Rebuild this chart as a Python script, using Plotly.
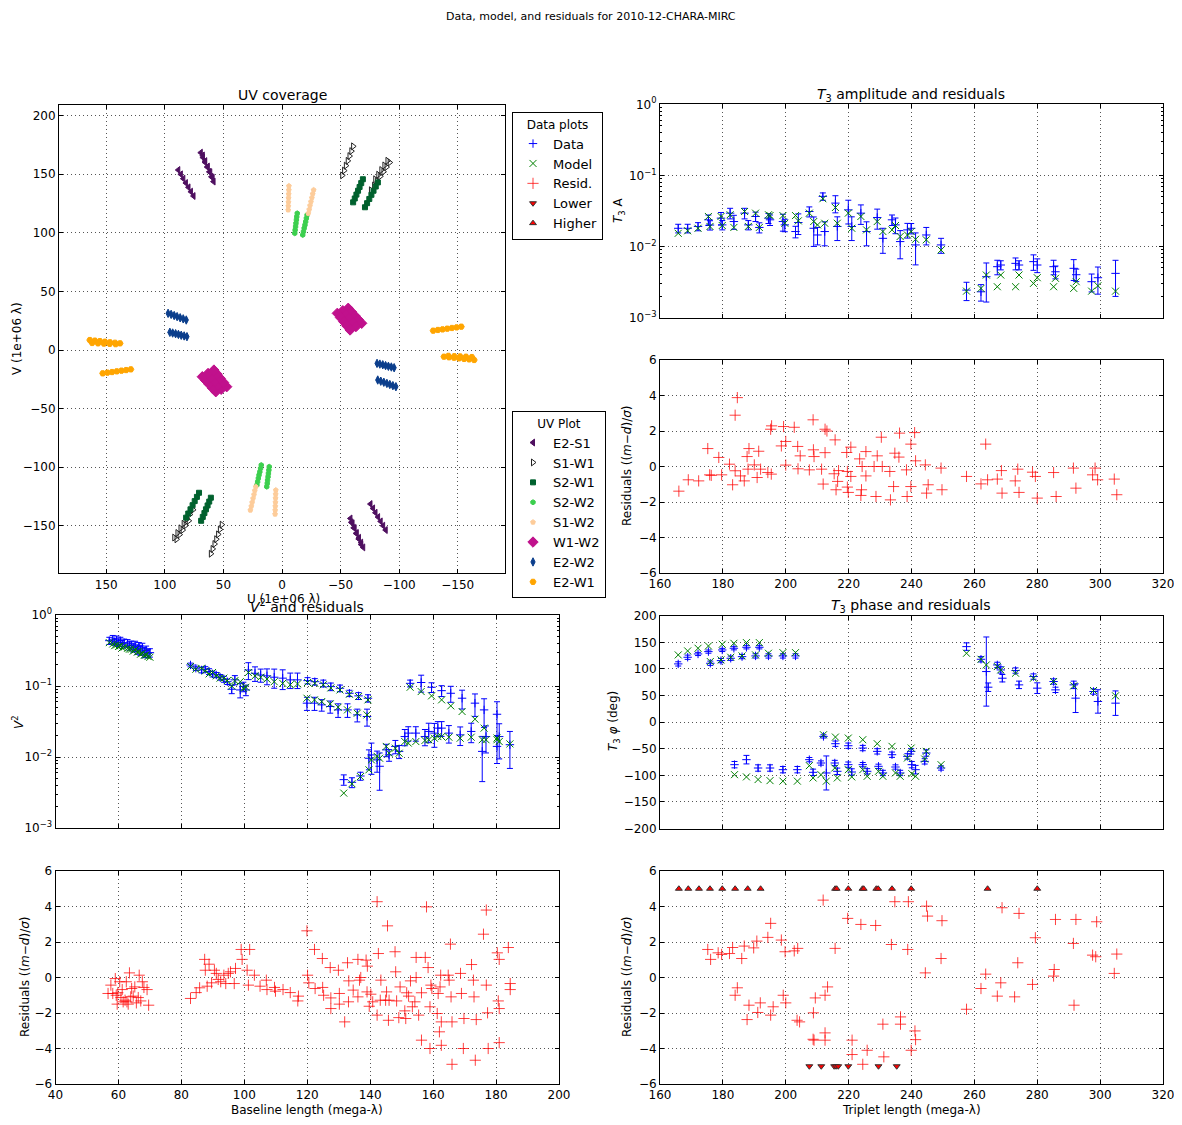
import plotly.graph_objects as go

W, H = 1182, 1125
OFF = 8  # browser body margin
FONT = "DejaVu Sans"

# ---------------- UV coverage data (u, v in 1e6 lambda) ----------------
uv_E2S1_u = [88.5, 86.3, 84.2, 82.0, 79.8, 77.7, 75.5, 69.3, 67.5, 65.7, 63.8, 62.0, 60.2, 58.4, 67.6, 65.5, 63.3, 61.2, 59.2,
             -58.4, -60.2, -62.0, -63.8, -65.7, -67.5, -69.3, -59.2, -61.2, -63.3, -65.5, -67.6,
             -75.5, -77.7, -79.8, -82.0, -84.2, -86.3, -88.5]
uv_E2S1_v = [153.6, 149.9, 146.2, 142.5, 138.8, 135.1, 131.4, 168.4, 164.3, 160.2, 156.1, 152.0, 147.8, 143.7, 166.0, 161.2, 156.5, 151.7, 147.0,
             -143.7, -147.8, -152.0, -156.1, -160.2, -164.3, -168.4, -147.0, -151.7, -156.5, -161.2, -166.0,
             -131.4, -135.1, -138.8, -142.5, -146.2, -149.9, -153.6]
uv_S1W1_u = [-60.7, -59.2, -57.6, -56.1, -54.5, -53.0, -51.4, -91.9, -89.2, -86.6, -83.9, -81.2, -78.6, -75.9, -90.0, -87.4, -84.8, -82.2, -79.6,
             60.7, 59.2, 57.6, 56.1, 54.5, 53.0, 51.4, 91.9, 89.2, 86.6, 83.9, 81.2, 78.6, 75.9, 90.0, 87.4, 84.8, 82.2, 79.6]
uv_S1W1_v = [173.8, 169.7, 165.5, 161.4, 157.3, 153.1, 149.0, 160.0, 156.1, 152.1, 148.2, 144.2, 140.3, 136.3, 161.5, 157.5, 153.6, 149.6, 145.7,
             -173.8, -169.7, -165.5, -161.4, -157.3, -153.1, -149.0, -160.0, -156.1, -152.1, -148.2, -144.2, -140.3, -136.3, -161.5, -157.5, -153.6, -149.6, -145.7]
uv_S2W1_u = [-69.0, -67.6, -66.2, -64.9, -63.5, -62.1, -60.7, -81.8, -80.0, -78.1, -76.3, -74.5, -72.6, -70.8,
             69.0, 67.6, 66.2, 64.9, 63.5, 62.1, 60.7, 81.8, 80.0, 78.1, 76.3, 74.5, 72.6, 70.8]
uv_S2W1_v = [145.7, 142.4, 139.1, 135.9, 132.6, 129.3, 126.0, 143.0, 139.5, 135.9, 132.4, 128.9, 125.3, 121.8,
             -145.7, -142.4, -139.1, -135.9, -132.6, -129.3, -126.0, -143.0, -139.5, -135.9, -132.4, -128.9, -125.3, -121.8]
uv_S2W2_u = [-13.0, -12.6, -12.3, -11.9, -11.6, -11.2, -10.9, -21.4, -20.8, -20.2, -19.6, -18.9, -18.3, -17.7,
             13.0, 12.6, 12.3, 11.9, 11.6, 11.2, 10.9, 21.4, 20.8, 20.2, 19.6, 18.9, 18.3, 17.7]
uv_S2W2_v = [116.6, 113.8, 111.0, 108.1, 105.3, 102.4, 99.6, 115.2, 112.4, 109.5, 106.7, 103.9, 101.0, 98.2,
             -116.6, -113.8, -111.0, -108.1, -105.3, -102.4, -99.6, -115.2, -112.4, -109.5, -106.7, -103.9, -101.0, -98.2]
uv_S1W2_u = [-5.9, -5.8, -5.7, -5.6, -5.5, -5.4, -5.3, -27.0, -26.2, -25.5, -24.7, -23.9, -23.2, -22.4,
             5.9, 5.8, 5.7, 5.6, 5.5, 5.4, 5.3, 27.0, 26.2, 25.5, 24.7, 23.9, 23.2, 22.4]
uv_S1W2_v = [140.0, 136.6, 133.2, 129.8, 126.3, 122.9, 119.5, 136.6, 133.3, 130.0, 126.6, 123.3, 119.9, 116.6,
             -140.0, -136.6, -133.2, -129.8, -126.3, -122.9, -119.5, -136.6, -133.3, -130.0, -126.6, -123.3, -119.9, -116.6]
uv_W1W2_u = [-56.5, -59.4, -62.2, -65.1, -68.0, -51.9, -54.7, -57.5, -60.3, -63.1, -47.2, -49.9, -52.7, -55.4, -58.1,
             56.5, 59.4, 62.2, 65.1, 68.0, 51.9, 54.7, 57.5, 60.3, 63.1, 47.2, 49.9, 52.7, 55.4, 58.1]
uv_W1W2_v = [35.6, 32.4, 29.2, 26.0, 22.8, 33.5, 30.1, 26.7, 23.3, 20.0, 31.3, 27.7, 24.2, 20.6, 17.1,
             -35.6, -32.4, -29.2, -26.0, -22.8, -33.5, -30.1, -26.7, -23.3, -20.0, -31.3, -27.7, -24.2, -20.6, -17.1]
uv_E2W2_u = [97.2, 94.6, 92.0, 89.5, 86.9, 84.3, 81.7, 95.7, 93.3, 90.8, 88.4, 86.0, 83.5, 81.1,
             -97.2, -94.6, -92.0, -89.5, -86.9, -84.3, -81.7, -95.7, -93.3, -90.8, -88.4, -86.0, -83.5, -81.1]
uv_E2W2_v = [31.3, 30.4, 29.4, 28.5, 27.5, 26.6, 25.6, 15.1, 14.5, 13.9, 13.3, 12.6, 12.0, 11.4,
             -31.3, -30.4, -29.4, -28.5, -27.5, -26.6, -25.6, -15.1, -14.5, -13.9, -13.3, -12.6, -12.0, -11.4]
uv_E2W1_u = [164.0, 159.7, 155.4, 151.1, 146.8, 142.5, 138.2, 162.0, 157.0, 152.0, 147.0, 142.0, 153.0, 149.0, 145.0, 141.0, 137.0, 133.0, 129.0,
             -164.0, -159.7, -155.4, -151.1, -146.8, -142.5, -138.2, -162.0, -157.0, -152.0, -147.0, -142.0, -153.0, -149.0, -145.0, -141.0, -137.0, -133.0, -129.0]
uv_E2W1_v = [8.5, 8.0, 7.6, 7.1, 6.6, 6.2, 5.7, 6.0, 5.7, 5.5, 5.3, 5.0, -19.9, -19.3, -18.8, -18.2, -17.6, -17.1, -16.5,
             -8.5, -8.0, -7.6, -7.1, -6.6, -6.2, -5.7, -6.0, -5.7, -5.5, -5.3, -5.0, 19.9, 19.3, 18.8, 18.2, 17.6, 17.1, 16.5]

# ---------------- T3 amplitude ----------------
t3amp_x = [165.8, 168.8, 172.1, 175.4, 175.9, 179.4, 179.8, 182.3, 183.5, 186.9, 188.1, 190.4, 191.6, 194.5, 195.0, 199.1, 199.7, 203.1, 204.0, 207.5,
           208.9, 210.1, 211.8, 212.4, 215.8, 216.4, 219.9, 221.0, 223.9, 225.7, 229.1, 230.9, 233.8, 234.9, 236.4, 238.7, 239.9, 241.3, 244.7, 249.4,
           257.5, 262.1, 263.8, 267.3, 268.4, 273.1, 274.2, 278.8, 280.0, 285.2, 285.8, 291.6, 292.4, 297.3, 299.3, 304.9]
t3amp_data = [0.0180, 0.0180, 0.0191, 0.0237, 0.0200, 0.0250, 0.0201, 0.0294, 0.0224, 0.0294, 0.0201, 0.0264, 0.0185, 0.0250, 0.0237, 0.0224, 0.0201, 0.0162, 0.0217, 0.0310,
              0.0180, 0.0145, 0.0506, 0.0162, 0.0407, 0.0191, 0.0327, 0.0191, 0.0294, 0.0162, 0.0255, 0.0130, 0.0237, 0.0201, 0.0117, 0.0171, 0.0180, 0.0105, 0.0145, 0.0105,
              0.00243, 0.00230, 0.00375, 0.00519, 0.00548, 0.00578, 0.00548, 0.00611, 0.00548, 0.00519, 0.00440, 0.00492, 0.00400, 0.00319, 0.00363, 0.00418]
t3amp_err = [0.0025, 0.0025, 0.0025, 0.004, 0.003, 0.005, 0.003, 0.005, 0.005, 0.005, 0.003, 0.004, 0.003, 0.004, 0.004, 0.006, 0.004, 0.003, 0.007, 0.005,
             0.008, 0.004, 0.006, 0.006, 0.011, 0.007, 0.012, 0.007, 0.009, 0.006, 0.008, 0.005, 0.004, 0.005, 0.005, 0.004, 0.003, 0.005, 0.004, 0.0025,
             0.0007, 0.0006, 0.0021, 0.0012, 0.0008, 0.0011, 0.0008, 0.0015, 0.0012, 0.0012, 0.0009, 0.0016, 0.0008, 0.0009, 0.0015, 0.0022]
t3amp_model = [0.0153, 0.0166, 0.0180, 0.0264, 0.0191, 0.0264, 0.0197, 0.0279, 0.0185, 0.0310, 0.0191, 0.0294, 0.0185, 0.0279, 0.0272, 0.0272, 0.0212, 0.0272, 0.0229, 0.0294,
               0.0224, 0.0201, 0.0469, 0.0212, 0.0353, 0.0212, 0.0294, 0.0180, 0.0264, 0.0171, 0.0224, 0.0162, 0.0171, 0.0197, 0.0138, 0.0145, 0.0162, 0.0126, 0.0124, 0.0089,
               0.00235, 0.00257, 0.00396, 0.00271, 0.00396, 0.00271, 0.00396, 0.00302, 0.00363, 0.00271, 0.00356, 0.00257, 0.00319, 0.00235, 0.00280, 0.00235]

t3amp_res_x = [166.0, 169.0, 172.3, 175.2, 175.8, 176.3, 178.7, 179.6, 182.1, 183.1, 183.9, 184.6, 183.9, 185.6, 186.8, 187.7, 188.3, 188.0, 190.0, 190.9,
               191.4, 192.0, 194.3, 195.2, 195.5, 195.4, 198.6, 199.3, 200.0, 200.0, 202.7, 203.8, 203.9, 204.6, 207.5, 208.7, 208.8, 209.0, 211.4, 211.9,
               212.5, 213.1, 212.5, 215.4, 216.0, 215.7, 216.5, 216.8, 219.4, 219.6, 219.6, 219.9, 220.7, 220.7, 223.5, 223.9, 224.1, 224.3, 225.5, 225.5,
               228.1, 228.7, 229.1, 230.4, 230.7, 233.1, 233.3, 234.3, 234.7, 236.0, 236.2, 238.4, 238.6, 239.8, 239.8, 241.0, 241.3, 244.4, 244.8, 245.3,
               249.4, 249.7, 257.5, 262.1, 263.6, 264.2, 267.3, 268.6, 268.8, 273.0, 273.8, 274.2, 278.5, 279.4, 280.0, 285.2, 286.0, 291.5, 292.3, 297.6,
               298.4, 299.2, 304.5, 305.3]
t3amp_res_y = [-1.39, -0.75, -0.81, 1.01, -0.47, -0.50, 0.51, -0.47, 0.13, -1.03, 2.89, 3.88, -0.24, -0.53, -0.81, 0.56, 1.01, -0.15, 0.09, -0.62,
               0.86, -0.15, -0.34, 2.10, 2.29, -0.43, 1.16, 2.25, 1.41, 0.08, 2.21, 1.13, -0.13, 0.60, -0.19, 2.63, 0.94, 0.56, -0.15, -0.99,
               2.10, 2.00, 0.78, -0.41, -1.31, 1.50, -0.84, -0.23, 0.79, -0.28, -1.16, -1.46, 1.09, -0.56, 0.43, -1.63, -1.31, 0.00, 0.84, -0.53,
               0.00, -1.69, 0.60, 1.65, 0.00, -0.28, -1.88, -1.13, 0.75, 0.53, 1.88, -0.19, -1.69, 1.26, -1.13, 1.91, 0.32, 0.09, -1.50, -1.03,
               -0.09, -1.31, -0.56, -0.98, 1.26, -0.75, -0.71, -0.23, -1.50, -0.81, -0.15, -1.46, -0.32, -0.56, -1.78, -0.34, -1.69, -0.09, -1.22, -0.47,
               -0.09, -0.75, -0.71, -1.59]

# ---------------- V^2 ----------------
v2_x = [57.1, 58.2, 58.8, 59.4, 60.0, 60.6, 61.2, 61.8, 62.9, 63.5, 64.1, 64.7, 65.3, 66.0, 66.5, 67.0, 67.6, 68.2, 68.8, 69.4, 70.0,
        82.9, 84.6, 86.4, 87.6, 88.8, 89.9, 91.1, 92.3, 93.5, 94.6, 96.0, 97.0, 98.7, 99.7, 100.5,
        101.3, 103.4, 105.2, 107.2, 109.5, 112.2, 114.6, 116.9, 120.1, 122.4, 125.1, 127.5, 130.4, 133.4, 136.3, 139.3,
        119.9, 122.3, 124.6, 127.3, 129.8, 132.8, 135.9, 139.0,
        131.6, 134.2, 136.9, 139.6, 140.4, 142.2, 143.0, 145.1, 146.0, 148.0, 149.2, 151.0, 152.1, 154.5, 157.4, 158.6, 160.4, 161.5, 162.7,
        165.0, 168.6, 172.1, 175.6, 176.8, 180.3, 181.0, 184.4,
        152.7, 156.2, 159.5, 162.7, 165.6, 169.2, 173.3, 176.2, 180.3]
v2_data = [0.435, 0.455, 0.420, 0.445, 0.410, 0.435, 0.390, 0.408, 0.400, 0.370, 0.379, 0.350, 0.367, 0.330, 0.359, 0.320, 0.340, 0.300, 0.315, 0.290, 0.295,
           0.198, 0.178, 0.168, 0.172, 0.160, 0.148, 0.143, 0.133, 0.125, 0.115, 0.090, 0.122, 0.088, 0.098, 0.088,
           0.168, 0.151, 0.143, 0.139, 0.133, 0.129, 0.122, 0.122, 0.119, 0.115, 0.109, 0.098, 0.093, 0.079, 0.0726, 0.0673,
           0.0573, 0.0573, 0.0542, 0.0514, 0.0461, 0.0461, 0.0392, 0.0372,
           0.0048, 0.0044, 0.0054, 0.0096, 0.0107, 0.0091, 0.0074, 0.0126, 0.0107, 0.0141, 0.0120, 0.0194, 0.0217, 0.0217, 0.0194, 0.0229, 0.0217, 0.0255, 0.0255,
           0.0217, 0.0205, 0.0229, 0.0120, 0.0194, 0.0141, 0.0194, 0.0149,
           0.109, 0.112, 0.096, 0.086, 0.079, 0.0673, 0.0573, 0.0461, 0.0400]
v2_err = [0.05, 0.06, 0.05, 0.06, 0.05, 0.05, 0.05, 0.05, 0.05, 0.05, 0.05, 0.05, 0.06, 0.05, 0.05, 0.05, 0.06, 0.05, 0.05, 0.04, 0.04,
          0.012, 0.012, 0.015, 0.015, 0.015, 0.014, 0.012, 0.012, 0.012, 0.010, 0.012, 0.018, 0.020, 0.015, 0.015,
          0.045, 0.035, 0.030, 0.035, 0.040, 0.040, 0.030, 0.030, 0.012, 0.012, 0.012, 0.012, 0.010, 0.008, 0.008, 0.008,
          0.012, 0.012, 0.010, 0.010, 0.010, 0.010, 0.008, 0.010,
          0.0008, 0.0007, 0.0007, 0.0030, 0.0050, 0.0030, 0.0040, 0.0025, 0.0020, 0.0030, 0.0025, 0.0050, 0.0050, 0.0050, 0.0050, 0.0070, 0.0080, 0.0060, 0.0060,
          0.0060, 0.0060, 0.0070, 0.0075, 0.0080, 0.0060, 0.0100, 0.0080,
          0.012, 0.030, 0.015, 0.015, 0.020, 0.020, 0.020, 0.020, 0.020]
v2_model = [0.408, 0.391, 0.370, 0.379, 0.360, 0.367, 0.345, 0.351, 0.340, 0.330, 0.329, 0.310, 0.322, 0.300, 0.305, 0.280, 0.289, 0.270, 0.274, 0.260, 0.254,
            0.188, 0.172, 0.178, 0.163, 0.148, 0.155, 0.139, 0.129, 0.129, 0.119, 0.100, 0.119, 0.115, 0.093, 0.096,
            0.155, 0.139, 0.133, 0.125, 0.115, 0.109, 0.104, 0.107, 0.112, 0.109, 0.104, 0.094, 0.088, 0.0766, 0.071, 0.0638,
            0.0673, 0.0638, 0.0604, 0.0560, 0.0503, 0.0461, 0.0414, 0.0392,
            0.0031, 0.0042, 0.0053, 0.0066, 0.0091, 0.0102, 0.0096, 0.0141, 0.0113, 0.0133, 0.0113, 0.0165, 0.0157, 0.0165, 0.0171, 0.0175, 0.0184, 0.0194, 0.0194,
            0.0190, 0.0184, 0.0190, 0.0175, 0.0175, 0.0175, 0.0165, 0.0153,
            0.096, 0.0835, 0.0726, 0.0638, 0.0525, 0.0437, 0.0341, 0.0255, 0.0185]

v2_res_x = [56.7, 57.6, 58.2, 59.0, 59.3, 59.6, 59.8, 60.4, 60.8, 61.2, 61.5, 62.1, 62.5, 62.7, 63.1, 63.5, 63.9, 64.2, 64.7, 65.2, 65.7, 66.3, 66.6, 67.1,
            67.6, 68.1, 69.1, 69.6,
            82.9, 84.7, 85.8, 87.4, 87.6, 88.2, 88.8, 89.6, 90.5, 91.1, 91.7, 92.5, 93.5, 94.1, 94.9, 95.6, 96.8, 97.2, 99.0, 99.3,
            100.9, 101.3, 101.7, 103.2, 105.0, 107.0, 107.2, 109.6, 109.9, 112.3, 114.6, 117.0, 117.2,
            119.9, 120.1, 120.5, 122.3, 122.5, 124.8, 124.9, 125.2, 127.3, 127.5, 127.5, 129.9, 130.2, 130.2, 131.9, 132.8, 133.1, 133.2, 134.6,
            136.1, 136.1, 136.6, 137.0, 138.7, 139.1, 139.0, 139.7, 140.2, 140.8, 142.2, 142.2, 142.6, 143.2, 143.4, 144.9, 145.2, 145.5, 145.8,
            146.0, 147.9, 148.1, 148.4, 149.1, 149.5, 151.0, 151.3, 151.6, 152.2, 152.8, 153.4, 154.2, 154.6, 154.6, 155.4, 156.3, 156.3, 157.5,
            157.9, 158.4, 159.0, 159.0, 159.3, 159.6, 161.3, 161.6, 162.0, 162.2, 162.4, 162.6, 162.6, 164.8, 165.1, 165.5, 165.7, 166.0, 166.0,
            168.7, 169.0, 169.6, 169.8, 172.2, 172.8, 173.0, 173.4, 173.7, 176.0, 176.9, 176.9, 177.3, 177.5, 180.4, 180.7, 181.0, 181.0, 181.0,
            183.9, 184.5, 184.5]
v2_res_y = [-0.90, -0.43, -0.90, -0.06, -1.00, -1.50, -0.86, -0.24, -1.13, -0.68, -1.37, -1.28, -0.24, -1.37, -1.50, 0.26, -1.09, -0.62, -1.05, -0.53,
            -1.43, -1.13, 0.13, -1.32, -0.24, -0.56, -0.68, -1.56,
            -1.18, -0.85, -0.58, 1.02, 0.41, -0.49, 0.75, -0.30, 0.41, 0.23, -0.11, -0.24, 0.13, -0.34, 0.23, 0.32, -0.34, 0.51, 1.58, 1.02,
            0.41, -0.43, 1.58, 0.13, -0.49, -0.15, -0.68, -0.56, -0.77, -0.68, -0.85, -1.32, -1.05,
            2.63, 0.13, -0.30, 1.58, -0.62, 1.07, -0.56, -1.00, 0.56, -1.15, -1.75, 0.41, -0.90, -1.50, -2.50, 0.83, -1.37, -0.19, -0.71,
            1.02, -1.09, -0.15, 0.00, 0.98, 0.64, -0.81, -1.62, -0.94, -1.37, 4.27, -2.12, 1.35, -1.28, -0.15, -1.28, -0.81, 2.91, -2.41,
            -1.28, 1.45, 0.32, -1.32, -2.26, -0.53, -1.88, -2.31, -0.86, -1.05, -0.19, -1.65, -1.37, 1.13, 0.00, -2.12, -0.86, -3.53, 1.13,
            3.98, 0.56, -1.65, -4.00, -0.43, -0.62, -2.03, -0.90, -3.06, -0.53, 0.13, -2.50, -3.82, 0.13, -0.15, 1.88, -1.09, -2.50, -4.89,
            0.23, -0.90, -4.00, -2.31, 0.73, -0.15, -1.09, -4.66, -2.37, 2.44, 3.80, -0.43, -1.99, -4.00, 1.39, -1.32, -1.75, 1.02, -3.67,
            1.69, -0.34, -0.68]

# ---------------- T3 phase ----------------
t3phi_x = [165.8, 168.8, 172.1, 175.4, 179.8, 183.5, 187.5, 191.6,
           176.0, 179.4, 182.5, 186.1, 190.4, 194.5, 199.1, 203.1,
           257.5, 262.1, 263.8, 264.4, 267.3, 268.4, 268.9, 273.1, 274.2, 278.8, 280.0, 285.2, 285.8, 291.6, 292.2, 297.9, 299.3, 304.9,
           183.7, 187.5, 191.2, 195.0, 199.1, 203.7, 207.5, 208.7, 211.2, 212.9, 215.6, 216.4, 219.9, 221.0, 224.5, 225.9, 229.5, 230.9, 234.9, 236.4, 240.1, 241.3,
           212.0, 215.8, 219.9, 224.5, 229.1, 233.8, 238.7, 239.9, 244.7, 244.2, 249.4]
t3phi_data = [109.4, 121.9, 128.1, 132.5, 135.6, 138.8, 140.6, 140.6,
              110.6, 115.6, 120.0, 123.1, 124.4, 124.4, 124.4, 124.4,
              141.9, 118.1, 95.0, 65.6, 107.5, 98.1, 82.5, 96.9, 70.0, 85.6, 63.8, 76.3, 60.6, 70.0, 45.0, 57.5, 38.8, 35.6,
              -80.0, -70.6, -86.3, -86.3, -89.4, -89.4, -70.6, -94.4, -76.9, -95.6, -76.9, -92.5, -80.0, -93.8, -80.0, -92.5, -83.1, -95.6, -84.4, -95.6, -80.0, -89.4,
              -26.9, -40.6, -44.4, -48.8, -55.0, -61.3, -64.4, -55.0, -58.1, -73.8, -86.3]
t3phi_err = [4, 4, 3, 3, 3, 3, 3, 3,
             4, 4, 4, 4, 4, 4, 4, 4,
             7, 5, 65, 8, 5, 6, 7, 5, 7, 5, 10, 5, 5, 7, 27, 5, 22, 23,
             6, 8, 6, 6, 6, 6, 4, 6, 4, 32, 5, 6, 5, 6, 4, 5, 4, 5, 4, 5, 6, 8,
             3, 5, 5, 5, 5, 5, 5, 5, 6, 5, 4]
t3phi_model = [126.3, 133.8, 138.8, 143.1, 146.3, 148.1, 149.4, 149.4,
               113.8, 116.9, 121.9, 124.4, 126.3, 129.4, 130.6, 130.6,
               129.4, 118.1, 107.5, None, 104.4, 98.1, None, 91.9, None, 82.5, None, 76.3, None, 68.1, None, 59.4, None, 49.4,
               -98.8, -103.0, -108.0, -110.0, -111.0, -111.0, -81.9, -105.0, -98.8, -111.0, -86.3, -105.0, -89.4, -103.0, -89.4, -101.9, -92.5, -101.9, -95.6, -101.9, -96.9, -101.9,
               -23.8, -28.1, -30.0, -33.1, -40.6, -45.6, -67.5, -48.8, -55.0, -69.4, -80.0]

t3phi_res_x = [175.2, 176.1, 178.5, 179.6, 182.1, 183.1, 183.9, 184.6, 186.0, 186.8, 187.7, 188.3, 189.8, 190.8, 191.1, 191.9, 194.3, 195.2, 195.2, 196.0,
               198.6, 199.2, 199.8, 200.0, 202.7, 203.8, 203.6, 204.4, 208.7, 208.8, 209.0, 209.4, 211.9, 212.5, 212.5, 212.5, 213.3, 215.7, 219.7, 221.1,
               221.1, 223.9, 224.5, 225.9, 228.6, 230.9, 231.2, 233.6, 234.7, 236.5, 236.5, 238.8, 239.0, 239.9, 241.1, 241.3, 244.4, 244.8, 245.1, 249.4,
               249.7, 257.5, 262.1, 263.6, 267.3, 268.4, 268.8, 272.8, 273.8, 274.2, 278.5, 279.4, 285.2, 285.4, 285.8, 291.5, 291.7, 292.3, 297.6, 298.6,
               298.9, 304.5, 305.3]
t3phi_res_y = [1.58, 1.02, 1.39, 1.30, 1.35, 1.69, -1.00, -0.58, 1.07, 1.77, -2.37, -1.56, 1.67, 2.05, -1.97, -1.43, 2.26, 3.05, -2.12, -1.65,
               2.11, -1.00, 1.45, -1.43, 1.50, 1.64, -2.41, -2.50, -3.48, -1.99, -3.53, -1.15, 4.36, -1.00, -3.12, -3.53, -0.53, 1.64, 3.33, -3.53,
               -4.34, 2.99, -4.89, -4.10, 2.93, -2.63, -4.47, 1.86, 4.27, -2.22, -2.63, 1.58, 4.27, -4.10, -3.01, -3.50, 0.26, 4.02, 3.46, 1.07,
               3.20, -1.79, -0.62, 0.19, -1.05, -0.30, 3.93, -1.09, 0.83, 3.61, -0.39, 2.24, 0.08, 0.45, 3.27, 1.92, -1.56, 3.27, 1.26, 1.17,
               3.14, 0.23, 1.32]
t3phi_high_x = [166.0, 169.0, 172.4, 175.9, 179.8, 183.9, 187.9, 192.0, 215.7, 216.2, 219.9, 224.4, 224.8, 228.8, 229.4, 233.8, 239.9, 264.2, 280.0]
t3phi_high_y = [5] * len(t3phi_high_x)
t3phi_low_x = [207.5, 211.3, 215.4, 216.0, 216.7, 219.9, 229.5, 235.3]
t3phi_low_y = [-5] * len(t3phi_low_x)

# ---------------- helpers (pixel positions of the reference, minus page margin) ----------------
def dom_x(a, b):
    return [(a - OFF) / W, (b - OFF) / W]

def dom_y(top, bottom):
    return [1 - (bottom - OFF) / H, 1 - (top - OFF) / H]

fig = go.Figure()

uv_series = [
    ("E2-S1", uv_E2S1_u, uv_E2S1_v, "triangle-left", "#4f1060", 6),
    ("S1-W1", uv_S1W1_u, uv_S1W1_v, "triangle-right-open", "#222222", 6),
    ("S2-W1", uv_S2W1_u, uv_S2W1_v, "square", "#00612e", 5),
    ("S2-W2", uv_S2W2_u, uv_S2W2_v, "hexagon", "#3ccf4e", 5),
    ("S1-W2", uv_S1W2_u, uv_S1W2_v, "pentagon", "#fdcc9a", 5),
    ("W1-W2", uv_W1W2_u, uv_W1W2_v, "diamond", "#c0118c", 8),
    ("E2-W2", uv_E2W2_u, uv_E2W2_v, "diamond-tall", "#0b3e8c", 6),
    ("E2-W1", uv_E2W1_u, uv_E2W1_v, "hexagon2", "#ffa500", 6),
]
for name, uu, vv, sym, col, sz in uv_series:
    fig.add_trace(go.Scatter(
        x=uu, y=vv, mode="markers", name=name, legend="legend2",
        marker=dict(symbol=sym, color=col, size=sz, line=dict(color=col, width=1)),
        xaxis="x", yaxis="y", hoverinfo="skip"))

DATA_C = "#0000ff"
MODEL_C = "#008000"
RES_C = "rgba(255,0,0,0.75)"

def data_trace(x, y, e, xa, ya, show):
    return go.Scatter(x=x, y=y, mode="markers", name="Data", legendgroup="data", showlegend=show, legend="legend",
                      marker=dict(symbol="cross-thin", size=6, color=DATA_C, line=dict(color=DATA_C, width=1)),
                      error_y=dict(type="data", array=e, visible=True, color=DATA_C, thickness=1, width=3),
                      xaxis=xa, yaxis=ya)

def model_trace(x, y, xa, ya, show):
    return go.Scatter(x=x, y=y, mode="markers", name="Model", legendgroup="model", showlegend=show, legend="legend",
                      marker=dict(symbol="x-thin", size=7, color=MODEL_C, line=dict(color=MODEL_C, width=1)),
                      xaxis=xa, yaxis=ya)

def res_trace(x, y, xa, ya, show):
    return go.Scatter(x=x, y=y, mode="markers", name="Resid.", legendgroup="res", showlegend=show, legend="legend",
                      marker=dict(symbol="cross-thin", size=8, color=RES_C, line=dict(color=RES_C, width=1)),
                      xaxis=xa, yaxis=ya)

fig.add_trace(data_trace(t3amp_x, t3amp_data, t3amp_err, "x2", "y2", True))
fig.add_trace(model_trace(t3amp_x, t3amp_model, "x2", "y2", True))
fig.add_trace(res_trace(t3amp_res_x, t3amp_res_y, "x3", "y3", True))

fig.add_trace(data_trace(v2_x, v2_data, v2_err, "x4", "y4", False))
fig.add_trace(model_trace(v2_x, v2_model, "x4", "y4", False))
fig.add_trace(res_trace(v2_res_x, v2_res_y, "x5", "y5", False))

fig.add_trace(data_trace(t3phi_x, t3phi_data, t3phi_err, "x6", "y6", False))
fig.add_trace(model_trace(t3phi_x, t3phi_model, "x6", "y6", False))
fig.add_trace(res_trace(t3phi_res_x, t3phi_res_y, "x7", "y7", False))

fig.add_trace(go.Scatter(x=t3phi_low_x, y=t3phi_low_y, mode="markers", name="Lower", legend="legend",
                         marker=dict(symbol="triangle-down", size=6, color="red", line=dict(color="#333333", width=1)),
                         xaxis="x7", yaxis="y7"))
fig.add_trace(go.Scatter(x=t3phi_high_x, y=t3phi_high_y, mode="markers", name="Higher", legend="legend",
                         marker=dict(symbol="triangle-up", size=6, color="red", line=dict(color="#333333", width=1)),
                         xaxis="x7", yaxis="y7"))

GRID = dict(showgrid=True, gridcolor="#555555", gridwidth=1, griddash="1px,3px",
            showline=True, linecolor="black", linewidth=1, mirror="ticks",
            ticks="inside", ticklen=4, tickcolor="black", zeroline=False, automargin=False,
            tickfont=dict(family=FONT, size=12, color="black"))

def ax(**kw):
    d = dict(GRID)
    d.update(kw)
    return d

minor_vals = [m * 10.0 ** e for e in (-3, -2, -1) for m in (2, 3, 4, 5, 6, 7, 8, 9)]
logticks = dict(type="log", range=[-3, 0], tickvals=[0.001, 0.01, 0.1, 1],
                ticktext=["10<sup>−3</sup>", "10<sup>−2</sup>", "10<sup>−1</sup>", "10<sup>0</sup>"],
                minor=dict(ticks="inside", ticklen=2, tickcolor="black", showgrid=False, tickmode="array", tickvals=minor_vals))

fig.update_layout(
    width=W, height=H, margin=dict(l=0, r=0, t=0, b=0, autoexpand=False),
    paper_bgcolor="white", plot_bgcolor="white",
    font=dict(family=FONT, color="black"),
    xaxis=ax(domain=dom_x(59, 505), range=[190.3, -190.3], tickvals=[150, 100, 50, 0, -50, -100, -150], anchor="y"),
    yaxis=ax(domain=dom_y(104.7, 573.3), range=[-190.5, 209.3], tickvals=[-150, -100, -50, 0, 50, 100, 150, 200], anchor="x"),
    xaxis2=ax(domain=dom_x(660, 1163), range=[160, 320], dtick=20, showticklabels=False, anchor="y2"),
    yaxis2=ax(domain=dom_y(104.3, 317.5), anchor="x2", **logticks),
    xaxis3=ax(domain=dom_x(660, 1163), range=[160, 320], dtick=20, anchor="y3"),
    yaxis3=ax(domain=dom_y(360, 573), range=[-6, 6], dtick=2, anchor="x3"),
    xaxis4=ax(domain=dom_x(55.5, 559), range=[40, 200], dtick=20, showticklabels=False, anchor="y4"),
    yaxis4=ax(domain=dom_y(615, 828), anchor="x4", **logticks),
    xaxis5=ax(domain=dom_x(55.5, 559), range=[40, 200], dtick=20, anchor="y5"),
    yaxis5=ax(domain=dom_y(871, 1084), range=[-6, 6], dtick=2, anchor="x5"),
    xaxis6=ax(domain=dom_x(660, 1163), range=[160, 320], dtick=20, showticklabels=False, anchor="y6"),
    yaxis6=ax(domain=dom_y(615.7, 828.5), range=[-200, 200], dtick=50, anchor="x6"),
    xaxis7=ax(domain=dom_x(660, 1163), range=[160, 320], dtick=20, anchor="y7"),
    yaxis7=ax(domain=dom_y(871, 1084), range=[-6, 6], dtick=2, anchor="x7"),
    legend=dict(x=(512 - OFF) / W, y=1 - (112 - OFF) / H, xanchor="left", yanchor="top",
                bordercolor="black", borderwidth=1, bgcolor="white",
                font=dict(family=FONT, size=13), tracegroupgap=0,
                title=dict(text="Data plots", font=dict(family=FONT, size=12), side="top center")),
    legend2=dict(x=(512 - OFF) / W, y=1 - (411 - OFF) / H, xanchor="left", yanchor="top",
                 bordercolor="black", borderwidth=1, bgcolor="white",
                 font=dict(family=FONT, size=13), tracegroupgap=0,
                 title=dict(text="UV Plot", font=dict(family=FONT, size=12), side="top center")),
    showlegend=True,
)

def ann(text, x, y, size=12, angle=0, xanchor="center", yanchor="middle"):
    fig.add_annotation(text=text, x=(x - OFF) / W, y=1 - (y - OFF) / H, xref="paper", yref="paper", showarrow=False,
                       font=dict(family=FONT, size=size, color="black"), textangle=angle,
                       xanchor=xanchor, yanchor=yanchor)

ann("Data, model, and residuals for 2010-12-CHARA-MIRC", 591, OFF, size=11, yanchor="top")
ann("UV coverage", 282, 95, size=14)
ann("<i>T</i><sub>3</sub> amplitude and residuals", 911, 95, size=14)
ann("<i>V</i><sup>2</sup> and residuals", 307, 606, size=14)
ann("<i>T</i><sub>3</sub> phase and residuals", 911, 606, size=14)
ann("U (1e+06 λ)", 283, 599, size=12)
ann("V (1e+06 λ)", OFF, 339, size=12, angle=-90, xanchor="left")
ann("<i>T</i><sub>3</sub> A", 619, 210, size=12, angle=-90)
ann("Residuals ((<i>m</i>−<i>d</i>)/<i>σ</i>)", 627, 466, size=12, angle=-90)
ann("<i>V</i><sup>2</sup>", OFF, 722, size=12, angle=-90, xanchor="left")
ann("Residuals ((<i>m</i>−<i>d</i>)/<i>σ</i>)", 25, 977, size=12, angle=-90)
ann("<i>T</i><sub>3</sub> <i>φ</i> (deg)", 614, 721, size=12, angle=-90)
ann("Residuals ((<i>m</i>−<i>d</i>)/<i>σ</i>)", 627, 977, size=12, angle=-90)
ann("Baseline length (mega-λ)", 307, 1110, size=12)
ann("Triplet length (mega-λ)", 911, 1110, size=12)

fig.write_html("out.html")
